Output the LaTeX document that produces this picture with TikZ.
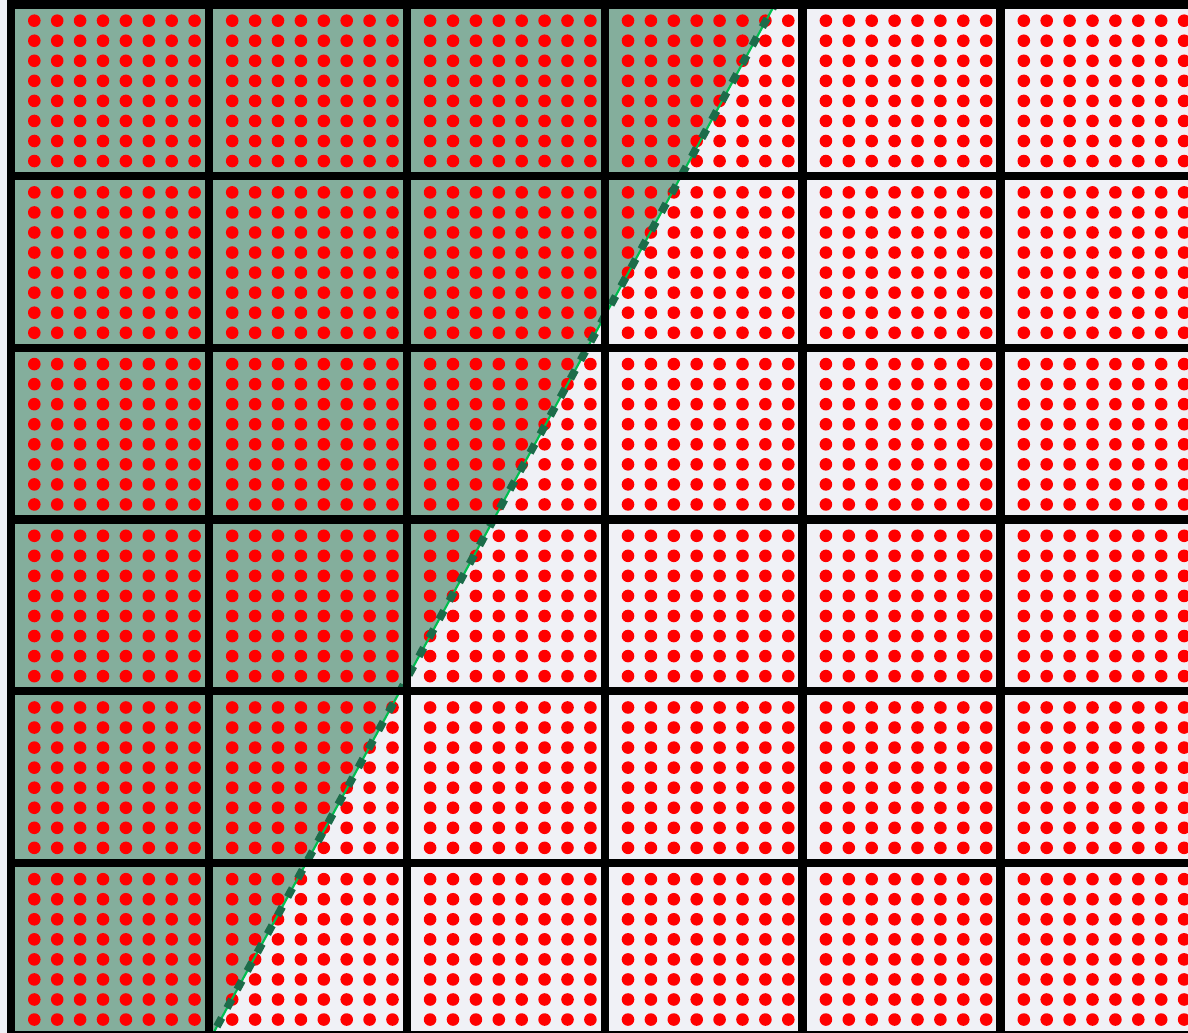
\documentclass[tikz,border=0pt]{standalone}
\usepackage{tikz}
\usetikzlibrary{calc}

\definecolor{cellbg}{RGB}{240,241,246}
\definecolor{zonefill}{RGB}{132,174,156}
\definecolor{zoneline}{RGB}{28,108,74}
\definecolor{zoneglow}{RGB}{0,190,80}

\begin{document}
\begin{tikzpicture}[
    x=0.02cm, y=-0.02cm,
    gridline/.style={draw=black, line width=4.7pt},
    pin/.style={fill=red},
    zone/.style={fill=zonefill},
    ridge/.style={draw=zoneline, line width=4.4pt, dash pattern=on 5.6pt off 6.4pt},
    ridgeglow/.style={draw=zoneglow, line width=1.2pt}
]

\clip (0,0) rectangle (1188,1033);
\fill[cellbg] (0,0) rectangle (1188,1033);

% boundary of the shaded part
\coordinate (ridgetop) at (777.2,0);
\coordinate (ridgebot) at (213.4,1033);
\coordinate (zonetl) at (11,0);
\coordinate (zonebl) at (11,1033);

\fill[zone] (zonetl) -- (ridgetop) -- (ridgebot) -- (zonebl) -- cycle;

% 8 x 8 dots in every cell
\foreach \col in {0,...,5}
  \foreach \row in {0,...,5}
    \foreach \i in {0,...,7}
      \foreach \j in {0,...,7}
        \fill[pin] ({34.3+197.9*\col+22.9*\i},{20.7+171.7*\row+20.05*\j}) circle[radius=0.126cm];

\draw[ridgeglow] (ridgetop) -- (ridgebot);
\draw[ridge] (ridgetop) -- (ridgebot);

% cell borders
\foreach \col in {0,...,6}
  \draw[gridline] ({11+197.9*\col},0) -- ({11+197.9*\col},1040);
\foreach \row in {0,...,6}
  \draw[gridline] (7,{4.5+171.7*\row}) -- (1188,{4.5+171.7*\row});

\end{tikzpicture}
\end{document}
